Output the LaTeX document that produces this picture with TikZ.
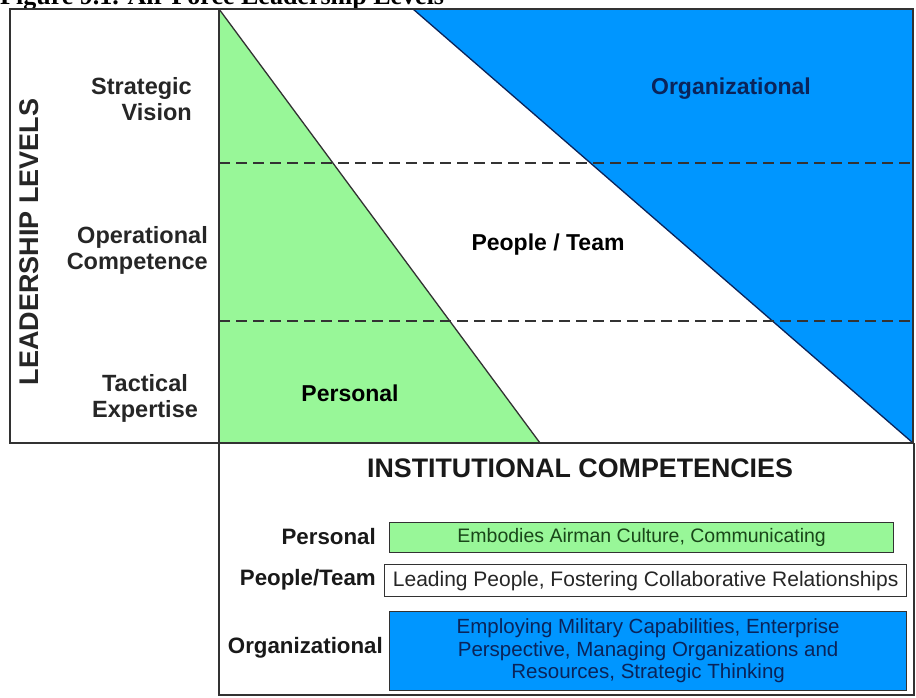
\documentclass[tikz,border=0pt]{standalone}
\usepackage{fontspec}
\setmainfont{Liberation Sans}
\newfontfamily\titlefont{Liberation Serif}
\definecolor{lgreen}{RGB}{152,247,152}
\definecolor{dblue}{RGB}{0,150,255}
\definecolor{navy}{RGB}{10,36,90}
\definecolor{dgreen}{RGB}{25,70,25}
\definecolor{edge}{RGB}{50,50,50}
\tikzset{
  frame/.style={draw=edge, line width=1.6pt},
  lvl/.style={font=\fontsize{23.5}{26}\selectfont\bfseries, text=black!85, inner sep=0pt},
  region/.style={font=\fontsize{23}{26}\selectfont\bfseries, inner sep=0pt},
  sublabel/.style={font=\fontsize{22.3}{25}\selectfont\bfseries, text=black!90, inner sep=0pt, anchor=east},
  compbox/.style={draw=edge, line width=1.3pt, inner sep=0pt, anchor=north west},
  boxtext/.style={inner sep=0pt, align=center},
  level/.style={draw=black!80, line width=2.7pt, dash pattern=on 11pt off 6pt}
}
\begin{document}
\begin{tikzpicture}[x=1pt,y=-1pt]
\useasboundingbox (0,0) rectangle (916,698);
\fill[white] (0,0) rectangle (916,698);
% title (cut off at the top)
\node[anchor=base west, inner sep=0pt, font=\titlefont\fontsize{26}{30}\selectfont\bfseries] (title) at (0,5) {Figure 9.1. Air Force Leadership Levels};
% coloured regions
\fill[lgreen] (219,9) -- (540,443) -- (219,443) -- cycle;
\fill[dblue] (413,9) -- (913,9) -- (913,443) -- cycle;
\draw[edge, line width=1.3pt] (219,9) -- (540,443);
\draw[navy, line width=1.3pt] (413,9) -- (913,443);
% dashed level lines
\draw[level] (219,163) -- (913,163);
\draw[level] (219,321) -- (913,321);
% frames
\draw[frame] (10,9) rectangle (913,443);
\draw[frame] (219,9) -- (219,695) -- (914,695) -- (914,443);
% left labels
\node[lvl, font=\fontsize{27}{30}\selectfont\bfseries, rotate=90] (ll) at (29,242) {LEADERSHIP LEVELS};
\node[lvl, align=right, anchor=east] (sv) at (192,99) {Strategic\\Vision};
\node[lvl, align=right, anchor=east] (oc) at (208,250) {Operational\\Competence};
\node[lvl, align=center] (te) at (145,398) {Tactical\\Expertise};
% region labels
\node[region, text=navy] (org) at (731,89) {Organizational};
\node[region] (pt) at (548,245) {People / Team};
\node[region] (per) at (350,393) {Personal};
% institutional competencies
\node[font=\fontsize{26.8}{30}\selectfont\bfseries, inner sep=0pt, text=black!90] (ic) at (580,468) {INSTITUTIONAL COMPETENCIES};
\node[sublabel] (lp) at (376,537) {Personal};
\node[sublabel] (lt) at (376,580) {People/Team};
\node[sublabel] (lo) at (383,648) {Organizational};
\node[compbox, fill=lgreen, minimum width=504pt, minimum height=30pt] (bp) at (389,522) {};
\node[boxtext, text=dgreen, font=\fontsize{19.5}{22.5}\selectfont] (tp) at (bp.center) {Embodies Airman Culture, Communicating};
\node[compbox, fill=white, minimum width=522pt, minimum height=32pt] (bt) at (384,564) {};
\node[boxtext, text=black!85, font=\fontsize{21}{22.5}\selectfont] (tt) at (bt.center) {Leading People, Fostering Collaborative Relationships};
\node[compbox, fill=dblue, minimum width=517pt, minimum height=79pt] (bo) at (389,611) {};
\node[boxtext, text=navy, font=\fontsize{20.5}{22.5}\selectfont] (to) at (bo.center) {Employing Military Capabilities, Enterprise\\Perspective, Managing Organizations and\\Resources, Strategic Thinking};
\end{tikzpicture}
\end{document}
